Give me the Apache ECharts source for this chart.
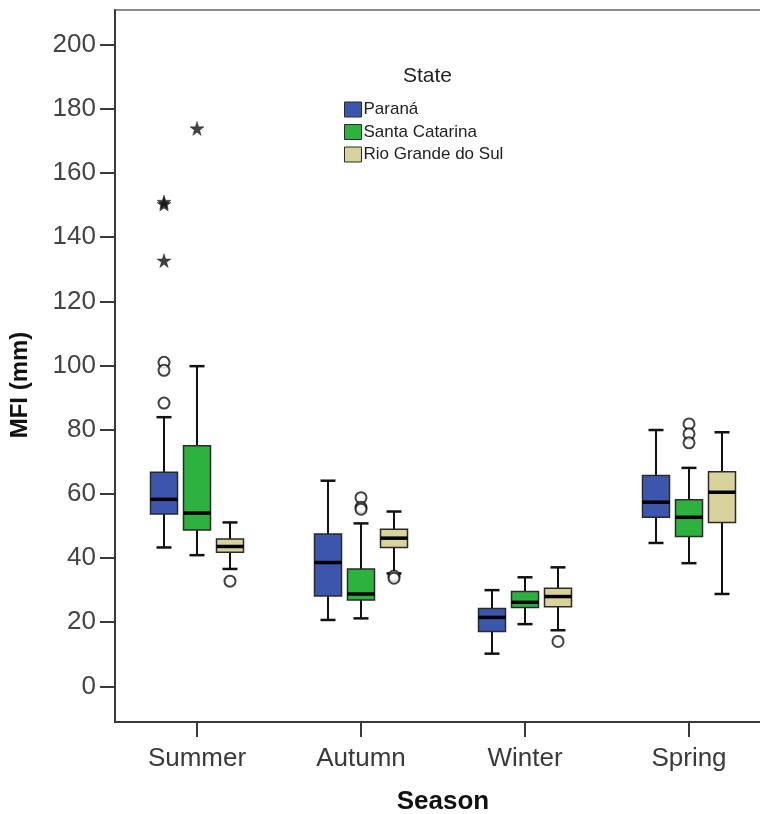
<!DOCTYPE html>
<html>
<head>
<meta charset="utf-8">
<script src="https://cdn.jsdelivr.net/npm/echarts@6/dist/echarts.min.js"></script>
<style>
  html, body { margin: 0; padding: 0; background: #fff; }
  #chart { width: 760px; height: 814px; }
</style>
</head>
<body>
<div id="chart"></div>
<script>
var seasons = ["Summer", "Autumn", "Winter", "Spring"];
var states = ["Paraná", "Santa Catarina", "Rio Grande do Sul"];
var yTicks = [0, 20, 40, 60, 80, 100, 120, 140, 160, 180, 200];

// [lower whisker, Q1, median, Q3, upper whisker] per season
var paranaBox = [[43.3, 53.7, 58.3, 66.7, 83.9], [20.7, 28.2, 38.6, 47.5, 64.1], [10.2, 17.1, 21.5, 24.3, 30.0], [44.7, 52.7, 57.4, 65.7, 79.9]];
var santaBox = [[40.9, 48.7, 54.0, 75.0, 99.8], [21.2, 26.9, 28.8, 36.6, 50.8], [19.4, 24.6, 26.2, 29.6, 34.0], [38.4, 46.7, 52.7, 58.2, 68.1]];
var rioBox = [[36.6, 41.8, 43.6, 45.9, 51.1], [35.2, 43.3, 46.2, 49.0, 54.5], [17.5, 24.8, 28.0, 30.6, 37.1], [28.8, 51.1, 60.5, 66.9, 79.2]];

// outliers (circles) and extremes (stars)
var paranaOut = [["Summer", 101.0], ["Summer", 98.5], ["Summer", 88.3]];
var paranaExt = [["Summer", 151.0], ["Summer", 150.3], ["Summer", 132.7]];
var santaOut = [["Autumn", 58.8], ["Autumn", 55.8], ["Autumn", 55.2], ["Spring", 81.8], ["Spring", 78.7], ["Spring", 75.9]];
var santaExt = [["Summer", 173.9]];
var rioOut = [["Summer", 32.8], ["Autumn", 34.4], ["Autumn", 33.7], ["Winter", 14.0]];
var rioExt = [];

var colors = ["#3c56ae", "#2eb23f", "#d8d29c"];
var shift = 33;
var star = "path://M50,0 L61,35 L98,35 L68,57 L79,91 L50,70 L21,91 L32,57 L2,35 L39,35 Z";

var chart = echarts.init(document.getElementById("chart"), null, { renderer: "canvas" });

function boxRender(offset, color) {
  return function (params, api) {
    var c = api.value(0);
    var lo = api.coord([c, api.value(1)]);
    var q1 = api.coord([c, api.value(2)]);
    var md = api.coord([c, api.value(3)]);
    var q3 = api.coord([c, api.value(4)]);
    var hi = api.coord([c, api.value(5)]);
    var x = lo[0] + offset;
    var hw = 13.5, cw = 7.5;
    var ln = { stroke: "#111", lineWidth: 2 };
    return {
      type: "group",
      children: [
        { type: "line", shape: { x1: x, y1: hi[1], x2: x, y2: q3[1] }, style: ln },
        { type: "line", shape: { x1: x, y1: q1[1], x2: x, y2: lo[1] }, style: ln },
        { type: "line", shape: { x1: x - cw, y1: hi[1], x2: x + cw, y2: hi[1] }, style: { stroke: "#111", lineWidth: 2.5 } },
        { type: "line", shape: { x1: x - cw, y1: lo[1], x2: x + cw, y2: lo[1] }, style: { stroke: "#111", lineWidth: 2.5 } },
        { type: "rect", shape: { x: x - hw, y: q3[1], width: hw * 2, height: q1[1] - q3[1] }, style: { fill: color, stroke: "#2a2a2a", lineWidth: 1.5 } },
        { type: "line", shape: { x1: x - hw, y1: md[1], x2: x + hw, y2: md[1] }, style: { stroke: "#000", lineWidth: 3.5 } }
      ]
    };
  };
}

var boxes = [paranaBox, santaBox, rioBox];
var outs = [paranaOut, santaOut, rioOut];
var exts = [paranaExt, santaExt, rioExt];
var series = [];
states.forEach(function (s, k) {
  series.push({
    name: s,
    type: "custom",
    renderItem: boxRender((k - 1) * shift, colors[k]),
    itemStyle: { color: colors[k], borderColor: "#2a2a2a", borderWidth: 1 },
    encode: { x: 0, y: [1, 2, 3, 4, 5] },
    data: boxes[k].map(function (b, i) { return [i].concat(b); }),
    z: 2
  });
  series.push({
    type: "scatter",
    symbol: "circle",
    symbolSize: 11,
    symbolOffset: [(k - 1) * shift, 0],
    itemStyle: { color: "#fff", borderColor: "#111", borderWidth: 2 },
    data: outs[k],
    z: 3
  });
  series.push({
    type: "scatter",
    symbol: star,
    symbolSize: 14,
    symbolOffset: [(k - 1) * shift, 0],
    itemStyle: { color: "#111", borderColor: "#111", borderWidth: 0.5 },
    data: exts[k],
    z: 3
  });
});

var option = {
  animation: false,
  title: {
    text: "State",
    left: 398,
    top: 61,
    textStyle: { fontFamily: "Liberation Sans", fontSize: 21, fontWeight: "normal", color: "#222" }
  },
  legend: {
    data: states,
    orient: "vertical",
    left: 339,
    top: 96,
    icon: "rect",
    itemWidth: 17,
    itemHeight: 15,
    itemGap: 5.5,
    itemStyle: { borderColor: "#2a2a2a", borderWidth: 1 },
    textStyle: { fontFamily: "Liberation Sans", fontSize: 17, color: "#222", padding: [0, 0, 0, -3] }
  },
  grid: {
    left: 115,
    top: 10,
    right: -11,
    bottom: 92,
    outerBoundsMode: "none",
    containLabel: false,
    show: true,
    borderColor: "#8c8c8c",
    borderWidth: 2
  },
  xAxis: {
    type: "category",
    data: seasons,
    boundaryGap: true,
    name: "Season",
    nameLocation: "middle",
    nameGap: 67,
    nameTextStyle: { fontFamily: "Liberation Sans", fontSize: 26, fontWeight: "bold", color: "#111" },
    axisLine: { onZero: false, lineStyle: { color: "#3a3a3a", width: 2 } },
    axisTick: { show: true, interval: 0, alignWithLabel: true, length: 15, lineStyle: { color: "#3a3a3a", width: 2 } },
    axisLabel: { margin: 24, fontFamily: "Liberation Sans", fontSize: 26, color: "#3a3a3a" },
    splitLine: { show: false }
  },
  yAxis: {
    type: "value",
    min: -11.1,
    max: 210.8,
    axisLine: { show: true, lineStyle: { color: "#3a3a3a", width: 2 } },
    axisTick: { show: true, length: 15, customValues: yTicks, lineStyle: { color: "#3a3a3a", width: 2 } },
    axisLabel: { margin: 19, customValues: yTicks, fontFamily: "Liberation Sans", fontSize: 26, color: "#444" },
    splitLine: { show: false }
  },
  graphic: [{
    type: "text",
    x: 20,
    y: 385,
    rotation: Math.PI / 2,
    style: {
      text: "MFI (mm)",
      fontFamily: "Liberation Sans",
      fontSize: 24,
      fontWeight: "bold",
      fill: "#111",
      textAlign: "center",
      textVerticalAlign: "middle"
    }
  }],
  series: series
};

option && chart.setOption(option);
</script>
</body>
</html>
